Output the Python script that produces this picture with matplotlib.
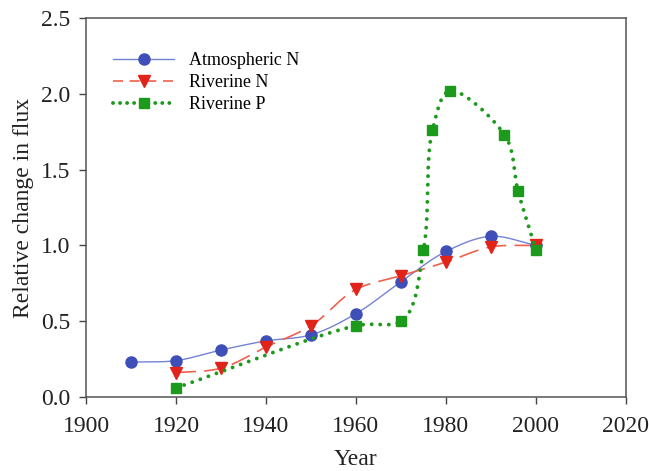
import numpy as np
import matplotlib
matplotlib.use("Agg")
import matplotlib.pyplot as plt

plt.rcParams['font.family'] = ['Liberation Serif', 'DejaVu Serif']

# values
atm_years = [1910, 1920, 1930, 1940, 1950, 1960, 1970, 1980, 1990, 2000]
atm_n = [0.23, 0.24, 0.31, 0.37, 0.41, 0.55, 0.76, 0.96, 1.06, 1.00]

riv_n_years = [1920, 1930, 1940, 1950, 1960, 1970, 1980, 1990, 2000]
riv_n = [0.16, 0.19, 0.33, 0.47, 0.71, 0.80, 0.89, 0.99, 1.00]

riv_p_years = [1920, 1960, 1970, 1975, 1977, 1981, 1993, 1996, 2000]
riv_p = [0.06, 0.47, 0.50, 0.97, 1.76, 2.02, 1.73, 1.36, 0.97]

x_ticks = [1900, 1920, 1940, 1960, 1980, 2000, 2020]
y_ticks = [0.0, 0.5, 1.0, 1.5, 2.0, 2.5]


def smooth(xs, ys, n=30):
    # centripetal catmull-rom curve through the points (drawing only)
    xs = np.asarray(xs, float)
    ys = np.asarray(ys, float)
    p = np.column_stack([xs / 120.0, ys / 2.5])
    p = np.vstack([2 * p[0] - p[1], p, 2 * p[-1] - p[-2]])
    out = []
    for i in range(1, len(p) - 2):
        p0, p1, p2, p3 = p[i - 1], p[i], p[i + 1], p[i + 2]
        t0 = 0.0
        t1 = t0 + np.linalg.norm(p1 - p0) ** 0.5
        t2 = t1 + np.linalg.norm(p2 - p1) ** 0.5
        t3 = t2 + np.linalg.norm(p3 - p2) ** 0.5
        t = np.linspace(t1, t2, n)[:, None]
        a1 = (t1 - t) / (t1 - t0) * p0 + (t - t0) / (t1 - t0) * p1
        a2 = (t2 - t) / (t2 - t1) * p1 + (t - t1) / (t2 - t1) * p2
        a3 = (t3 - t) / (t3 - t2) * p2 + (t - t2) / (t3 - t2) * p3
        b1 = (t2 - t) / (t2 - t0) * a1 + (t - t0) / (t2 - t0) * a2
        b2 = (t3 - t) / (t3 - t1) * a2 + (t - t1) / (t3 - t1) * a3
        c = (t2 - t) / (t2 - t1) * b1 + (t - t1) / (t2 - t1) * b2
        out.append(c)
    c = np.vstack(out)
    return c[:, 0] * 120.0, c[:, 1] * 2.5


fig = plt.figure(figsize=(6.49, 4.71), dpi=100)
ax = fig.add_axes([0.1325, 0.1571, 0.832, 0.8047])

blue_line, blue_mk = '#7482d4', '#3f4fb8'
red_line, red_mk = '#f0604c', '#e2231a'
green = '#1b9a1b'

sx, sy = smooth(atm_years, atm_n)
ax.plot(sx, sy, color=blue_line, lw=1.0, zorder=2)
ax.plot(atm_years, atm_n, 'o', color=blue_mk, ms=8, zorder=3)

sx, sy = smooth(riv_n_years, riv_n)
ax.plot(sx, sy, color=red_line, lw=1.2, ls=(0, (12, 5)), zorder=2)
ax.plot(riv_n_years, riv_n, 'v', color=red_mk, ms=8, zorder=3)

sx, sy = smooth(riv_p_years, riv_p)
ax.plot(sx, sy, color=green, lw=2.8, ls=(0, (0.01, 2.2)),
        dash_capstyle='round', zorder=4)
ax.plot(riv_p_years, riv_p, 's', color=green, ms=6.5, zorder=5)

# legend proxies
h1, = ax.plot([], [], color=blue_line, lw=1.0, marker='o', mfc=blue_mk,
              mec=blue_mk, ms=8)
h2, = ax.plot([], [], color=red_line, lw=1.2, ls=(0, (6, 4)), marker='v',
              mfc=red_mk, mec=red_mk, ms=8)
h3, = ax.plot([], [], color=green, lw=2.8, ls=(0, (0.01, 1.8)),
              dash_capstyle='round', marker='s', ms=6.5)
ax.legend([h1, h2, h3], ['Atmospheric N', 'Riverine N', 'Riverine P'],
          loc='upper left', bbox_to_anchor=(0.05, 0.91), frameon=False,
          fontsize=13, handlelength=3.4, handletextpad=0.8,
          labelspacing=0.28, borderpad=0, borderaxespad=0)

ax.set_xlim(1900, 2020)
ax.set_ylim(0, 2.5)
ax.set_xticks(x_ticks)
ax.set_yticks(y_ticks)
ax.set_yticklabels(['%.1f' % v for v in y_ticks])
ax.tick_params(axis='both', direction='out', length=5, width=1,
               color='#444444', labelsize=17, labelcolor='#222222', pad=6)
ax.tick_params(axis='x', pad=9)
for s in ax.spines.values():
    s.set_color('#555555')
    s.set_linewidth(1.1)

ax.set_xlabel('Year', fontsize=17, color='#222222', labelpad=8)
ax.set_ylabel('Relative change in flux', fontsize=17, color='#222222',
              labelpad=5)

fig.savefig('out.png', dpi=100)
